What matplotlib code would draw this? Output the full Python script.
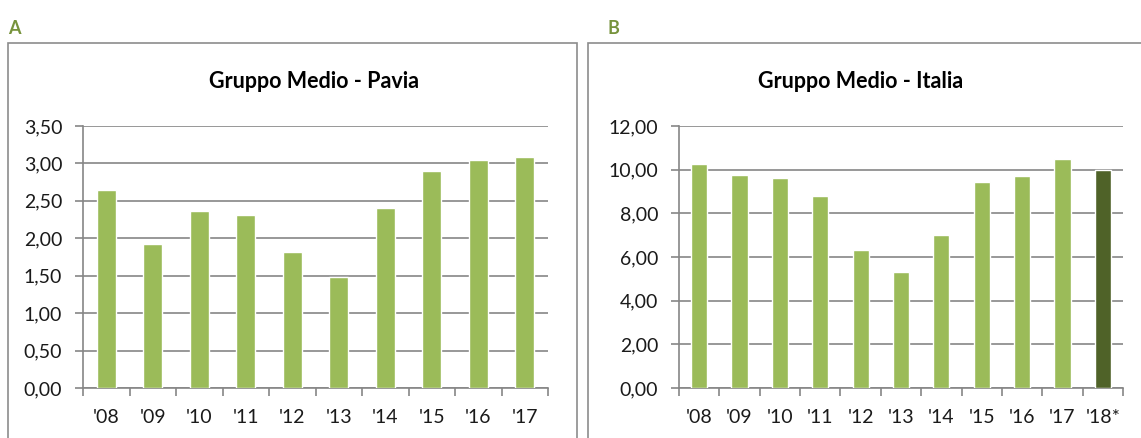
"""
Gruppo Medio: Pavia vs Italia, bar charts side by side
"""

import matplotlib.pyplot as plt
from matplotlib.patches import Rectangle
from matplotlib.ticker import FuncFormatter, MultipleLocator
import numpy as np

plt.rcParams["font.family"] = ["Lato", "DejaVu Sans"]

# data
years_pavia = ["'08", "'09", "'10", "'11", "'12", "'13", "'14", "'15", "'16", "'17"]
values_pavia = [2.65, 1.92, 2.37, 2.31, 1.82, 1.48, 2.40, 2.90, 3.05, 3.08]

years_italia = ["'08", "'09", "'10", "'11", "'12", "'13", "'14", "'15", "'16", "'17", "'18*"]
values_italia = [10.25, 9.75, 9.60, 8.80, 6.30, 5.30, 7.00, 9.45, 9.70, 10.50, 10.00]

light_green = "#9BBB59"
dark_green = "#4F6228"
label_green = "#77933C"
grid_grey = "#868686"

fig = plt.figure(figsize=(11.41, 4.38), dpi=100)

# panel frames (they run off the bottom / right edge of the picture)
for x0, w in [(8 / 1141, 569 / 1141), (588 / 1141, 560 / 1141)]:
    fig.patches.append(Rectangle((x0, -0.05), w, 1 - 43 / 438 + 0.05,
                                 transform=fig.transFigure, fill=False,
                                 edgecolor="#8c8c8c", linewidth=1.2))

fig.text(8 / 1141, 1 - 29 / 438, "A", color=label_green, fontsize=13,
         fontweight="bold", va="center", ha="left")
fig.text(607 / 1141, 1 - 29 / 438, "B", color=label_green, fontsize=13,
         fontweight="bold", va="center", ha="left")


def draw_panel(rect, labels, values, ymax, step, title, title_x, colors):
    ax = fig.add_axes(rect)
    x = np.arange(len(labels))
    ax.bar(x, values, width=0.4, color=colors, edgecolor="white",
           linewidth=1.0, zorder=3)
    ax.set_xlim(-0.5, len(labels) - 0.5)
    ax.set_ylim(0, ymax)
    ax.yaxis.set_major_locator(MultipleLocator(step))
    ax.yaxis.set_major_formatter(FuncFormatter(lambda v, p: f"{v:.2f}".replace(".", ",")))
    ax.set_xticks(x)
    ax.set_xticklabels(labels)
    ax.set_xticks(np.arange(-0.5, len(labels)), minor=True)
    ax.tick_params(axis="x", which="major", length=0, pad=15, labelsize=14, colors="#1a1a1a")
    ax.tick_params(axis="x", which="minor", length=6, color=grid_grey, width=1.2)
    ax.tick_params(axis="y", length=6, color=grid_grey, width=1.2, pad=9,
                   labelsize=14, labelcolor="#1a1a1a")
    ax.grid(axis="y", color=grid_grey, linewidth=1.2, zorder=0)
    for side in ["top", "right"]:
        ax.spines[side].set_visible(False)
    for side in ["left", "bottom"]:
        ax.spines[side].set_color(grid_grey)
        ax.spines[side].set_linewidth(1.2)
    fig.text(title_x, 1 - 82 / 438, title, fontsize=15.5, fontweight="bold",
             ha="center", va="center", color="black")
    return ax


draw_panel([83 / 1141, 1 - 388 / 438, 465 / 1141, 262 / 438],
           years_pavia, values_pavia, 3.5, 0.5,
           "Gruppo Medio - Pavia", 314 / 1141,
           [light_green] * len(values_pavia))

draw_panel([679 / 1141, 1 - 388 / 438, 444 / 1141, 262 / 438],
           years_italia, values_italia, 12, 2,
           "Gruppo Medio - Italia", 861 / 1141,
           [light_green] * (len(values_italia) - 1) + [dark_green])

fig.savefig("out.png", dpi=100)
